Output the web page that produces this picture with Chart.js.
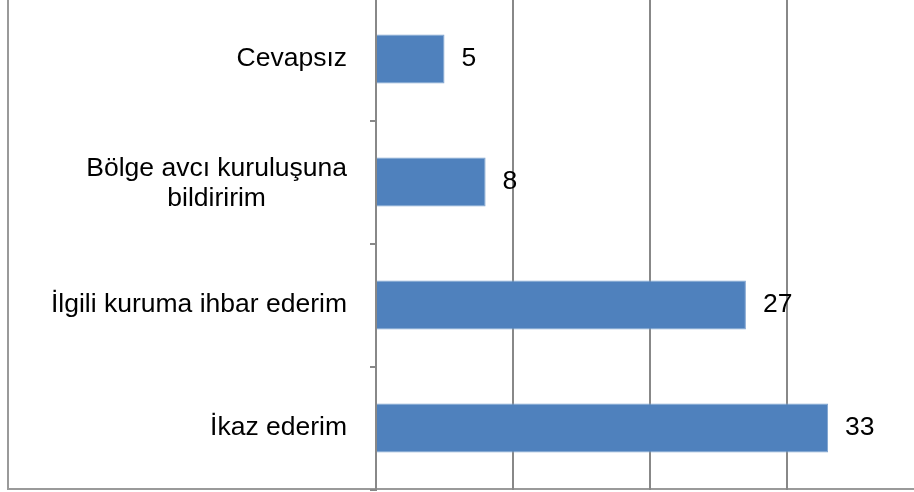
<!DOCTYPE html>
<html>
<head>
<meta charset="utf-8">
<script src="https://cdn.jsdelivr.net/npm/chart.js@4/dist/chart.umd.min.js"></script>
<style>
  html, body { margin: 0; padding: 0; background: #fff; overflow: hidden; width: 914px; height: 492px; }
  #wrap { position: relative; width: 914px; height: 492px; overflow: hidden; }
  #frame { position: absolute; left: 7px; top: -5px; width: 920px; height: 495px;
           border-left: 2px solid #9a9a9a; border-bottom: 2px solid #9a9a9a; box-sizing: border-box; }
  #c { position: absolute; left: 0; top: -20px; }
</style>
</head>
<body>
<div id="wrap">
  <div id="frame"></div>
  <canvas id="c" width="960" height="520" style="width:960px;height:520px"></canvas>
</div>
<script>
const categories = ["Cevapsız", ["Bölge avcı kuruluşuna", "bildiririm"], "İlgili kuruma ihbar ederim", "İkaz ederim"];
const values = [5, 8, 27, 33];
const xTicks = [0, 10, 20, 30, 40];

const FONT = '26.5px "Liberation Sans", Arial, sans-serif';

const labelsPlugin = {
  id: 'customLabels',
  afterDatasetsDraw(chart) {
    const ctx = chart.ctx;
    const ys = chart.scales.y;
    const xs = chart.scales.x;
    ctx.save();
    ctx.font = FONT;
    ctx.fillStyle = '#000';
    ctx.textBaseline = 'middle';
    const rightEdge = 347;
    const lineH = 30;
    categories.forEach((lab, i) => {
      const lines = Array.isArray(lab) ? lab : [lab];
      const y = ys.getPixelForTick(i) + (lines.length > 1 ? 1.5 : 0);
      const maxW = Math.max(...lines.map(l => ctx.measureText(l).width));
      const cx = rightEdge - maxW / 2;
      ctx.textAlign = 'center';
      lines.forEach((l, k) => {
        const ly = y + (k - (lines.length - 1) / 2) * lineH;
        ctx.fillText(l, cx, ly);
      });
    });
    const meta = chart.getDatasetMeta(0);
    ctx.textAlign = 'left';
    meta.data.forEach((bar, i) => {
      ctx.fillText(String(values[i]), xs.getPixelForValue(values[i]) + 17, bar.y);
    });
    ctx.restore();
  }
};

new Chart(document.getElementById('c'), {
  type: 'bar',
  data: {
    labels: categories,
    datasets: [{
      data: values,
      backgroundColor: '#4F81BD',
      borderColor: '#7FA3CF',
      borderWidth: 1,
      borderSkipped: 'start',
      categoryPercentage: 1,
      barPercentage: 0.4
    }]
  },
  options: {
    indexAxis: 'y',
    responsive: false,
    animation: false,
    devicePixelRatio: 1,
    layout: { padding: { top: 17.5, bottom: 10.5, left: 0, right: 36 } },
    plugins: { legend: { display: false }, tooltip: { enabled: false } },
    scales: {
      x: {
        min: 0, max: 40,
        afterBuildTicks(scale) { scale.ticks = xTicks.map(v => ({ value: v })); },
        afterFit(scale) { scale.height = 0; },
        ticks: { display: false },
        border: { display: false },
        grid: { color: '#888', lineWidth: 2, drawTicks: false }
      },
      y: {
        afterFit(scale) { scale.width = 376; },
        ticks: { display: false },
        border: { display: true, color: '#888', width: 2 },
        grid: { drawOnChartArea: false, drawTicks: true, tickLength: 6, color: '#888', lineWidth: 2, offset: true }
      }
    }
  },
  plugins: [labelsPlugin]
});
</script>
</body>
</html>
